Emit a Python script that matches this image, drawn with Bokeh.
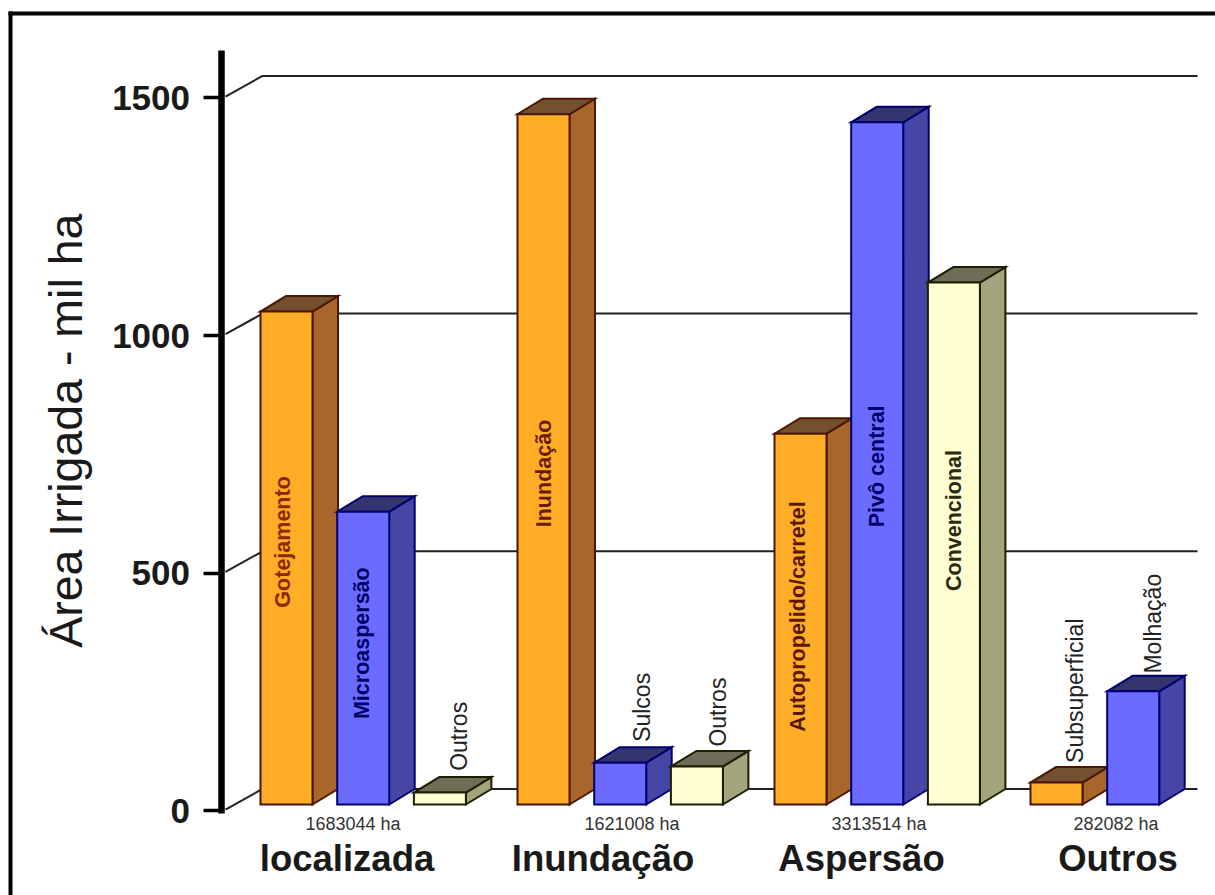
from math import pi
from bokeh.plotting import figure
from bokeh.embed import file_html
from bokeh.resources import INLINE
from bokeh.core.properties import value
from bokeh.models import Range1d, LinearAxis, FixedTicker, ColumnDataSource

# ---- data
group_names = ["localizada", "Inundação", "Aspersão", "Outros"]
group_totals = ["1683044 ha", "1621008 ha", "3313514 ha", "282082 ha"]
localizada_names = ["Gotejamento", "Microaspersão", "Outros"]
localizada_vals = [1037, 616, 25]
inundacao_names = ["Inundação", "Sulcos", "Outros"]
inundacao_vals = [1452, 88, 80]
aspersao_names = ["Autopropelido/carretel", "Pivô central", "Convencional"]
aspersao_vals = [780, 1435, 1098]
outros_names = ["Subsuperficial", "Molhação"]
outros_vals = [46, 238]
y_ticks = [0, 500, 1000, 1500]

# ---- layout (x unit = one reference pixel, y unit = thousand ha)
PX = 713 / 1500
FRONT = 6.5 / PX           # bars stand slightly above the axis zero
DX, DY = 25.5, 15.5 / PX   # 3D depth
W = 52
STEP = 76.7
group_x = [260, 517, 774, 1030]
groups = [
    (localizada_names, localizada_vals),
    (inundacao_names, inundacao_vals),
    (aspersao_names, aspersao_vals),
    (outros_names, outros_vals),
]
styles = [
    dict(front="#FFAD26", side="#A8662A", top="#74502E", edge="#4A1800"),
    dict(front="#6B6BFF", side="#4646A6", top="#34346E", edge="#000070"),
    dict(front="#FFFFD2", side="#A3A37C", top="#6E6E58", edge="#1E1E00"),
]
# label placement per bar: x offset from bar centre, y centre in chart units
label_dx = [[-4, -1, 19], [0, 22, 21], [-3, 0, 0], [18, 20]]
label_y = [[566, 353, 157], [710, 218, 208], [409, 725, 611], [253, 394]]
label_colors = [["#8A2A00", "#000066", "#222222"], ["#6A1C00", "#222222", "#222222"],
                ["#5A1800", "#000066", "#2A2A10"], ["#222222", "#222222"]]
label_bold = [[True, True, False], [True, False, False], [True, True, True], [False, False]]

p = figure(
    width=1215, height=895, output_backend="svg", toolbar_location=None,
    x_range=Range1d(0, 1215), y_range=Range1d(-177.8, 1705),
    x_axis_location=None, y_axis_location=None,
    min_border_left=0, min_border_right=0, min_border_top=0, min_border_bottom=0,
    outline_line_color=None, background_fill_color="white",
)
p.grid.visible = False

axis = LinearAxis(
    fixed_location=220.5,
    ticker=FixedTicker(ticks=y_ticks), bounds=(-6, 1600),
    axis_line_width=6.5, axis_line_color="black",
    major_tick_out=18, major_tick_in=0, minor_tick_line_color=None,
    major_tick_line_width=3.5, major_tick_line_color="black",
    major_label_standoff=13,
    major_label_text_font="Liberation Sans", major_label_text_font_size="35px",
    major_label_text_font_style="bold", major_label_text_color="#1a1a1a",
)
p.add_layout(axis, "left")

# picture frame: left and top edges only
p.quad(left=[8, 8], right=[12, 1215], top=[1682, 1682], bottom=[-177.8, 1673.6],
       fill_color="black", line_color=None)

p.text([65], [800], text=["Área Irrigada - mil ha"], angle=pi / 2, text_align="center",
       text_baseline="middle", text_color="#1a1a1a", text_font=value("Liberation Sans"),
       text_font_size="46.5px")

# back-wall gridlines
wall_dx, wall_dy = 41, 22 / PX
grid_xs = [[225, 221 + wall_dx, 1197] for _ in y_ticks]
grid_ys = [[t + 3, t + wall_dy, t + wall_dy] for t in y_ticks]
p.multi_line(grid_xs, grid_ys, line_color="#222222", line_width=2)

# bars
xs, ys, fills, edges = [], [], [], []
tx, ty, tt, tc, tw, ts = [], [], [], [], [], []
for gi, (names, vals) in enumerate(groups):
    for i, (n, v) in enumerate(zip(names, vals)):
        st = styles[i]
        l = group_x[gi] + i * STEP
        r = l + W
        b, t = FRONT, FRONT + v
        xs += [[r, r + DX, r + DX, r], [l, r, r + DX, l + DX], [l, r, r, l]]
        ys += [[b, b + DY, t + DY, t], [t, t, t + DY, t + DY], [b, b, t, t]]
        fills += [st["side"], st["top"], st["front"]]
        edges += [st["edge"]] * 3
        tx.append(l + W / 2 + label_dx[gi][i])
        ty.append(label_y[gi][i])
        tt.append(n)
        tc.append(label_colors[gi][i])
        tw.append("bold" if label_bold[gi][i] else "normal")
        ts.append("21.5px" if label_bold[gi][i] else "23px")

p.patches(xs, ys, fill_color=fills, line_color=edges, line_width=2, line_join="miter")

src = ColumnDataSource(dict(x=tx, y=ty, t=tt, c=tc, w=tw, s=ts))
p.text("x", "y", text="t", source=src, angle=pi / 2, text_align="center", text_baseline="middle",
       text_color="c", text_font=value("Liberation Sans"), text_font_size="s", text_font_style="w")

# group captions
total_x = [352.5, 631.5, 878.5, 1115.5]
name_x = [346.5, 602.5, 861, 1117.5]
p.text(total_x, [-28] * 4, text=group_totals, text_align="center", text_baseline="middle",
       text_color="#333333", text_font=value("Liberation Sans"), text_font_size="18px")
p.text(name_x, [-100] * 4, text=group_names, text_align="center", text_baseline="middle",
       text_color="#1a1a1a", text_font=value("Liberation Sans"), text_font_size="36.5px",
       text_font_style="bold")

open("out.html", "w").write(file_html(p, INLINE))
